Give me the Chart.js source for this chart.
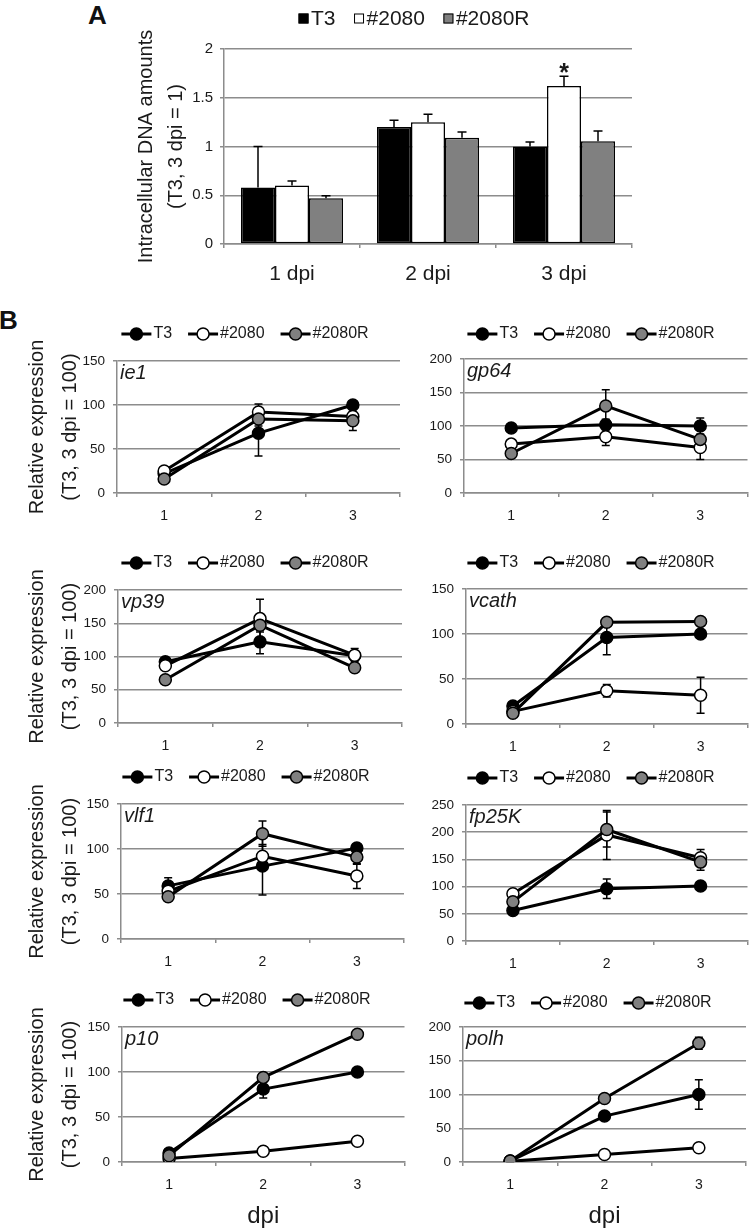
<!DOCTYPE html>
<html>
<head>
<meta charset="utf-8">
<script src="https://cdn.jsdelivr.net/npm/chart.js@4.4.1/dist/chart.umd.min.js"></script>
<style>
  html, body { margin: 0; padding: 0; background: #fff; }
  #page { position: relative; width: 750px; height: 1230px; overflow: hidden; font-family: "Liberation Sans", Arial, sans-serif; }
  #page canvas { position: absolute; }
  .tag { position: absolute; font-weight: bold; font-size: 26px; line-height: 1; color: #111; }
</style>
</head>
<body>
<div id="page">
  <div class="tag" style="left:88px; top:2px">A</div>
  <div class="tag" style="left:-1px; top:307px">B</div>
</div>
<script>
// ---- panel A: intracellular DNA (T3, 3 dpi = 1) ----
const dnaDays = ['1 dpi', '2 dpi', '3 dpi'];
const strains = ['T3', '#2080', '#2080R'];
const dnaT3 = [0.58, 1.20, 1.00];
const dna2080 = [0.60, 1.25, 1.62];
const dna2080R = [0.47, 1.09, 1.055];
const dnaErrT3 = [0.42, 0.07, 0.045];
const dnaErr2080 = [0.045, 0.08, 0.10];
const dnaErr2080R = [0.025, 0.06, 0.105];
const dnaTicks = ['0', '0.5', '1', '1.5', '2'];
const dnaStars = ['', '', '*'];   // #2080 vs T3

// ---- panel B: relative expression, rows are T3, #2080, #2080R ----
const dpi = ['1', '2', '3'];
const genes = ['ie1', 'gp64', 'vp39', 'vcath', 'vlf1', 'fp25K', 'p10', 'polh'];
const geneMax = [150, 200, 200, 150, 150, 250, 150, 200];

const ie1 = [[22, 68, 100], [25, 92, 87], [16, 84, 82]];
const ie1Err = [[3, 26, 3], [3, 9, 5], [2, 8, 11]];
const gp64 = [[97, 102, 100], [73, 84, 68], [59, 130, 80]];
const gp64Err = [[3, 8, 12], [4, 13, 18], [4, 24, 6]];
const vp39 = [[92, 122, 101], [86, 157, 102], [65, 147, 83]];
const vp39Err = [[6, 18, 5], [5, 29, 10], [4, 10, 4]];
const vcath = [[20, 96, 100], [14, 37, 32], [12, 113, 114]];
const vcathErr = [[2, 19, 2], [2, 7, 20], [2, 4, 3]];
const vlf1 = [[59, 81, 101], [53, 92, 70], [47, 117, 91]];
const vlf1Err = [[9, 32, 3], [5, 13, 14], [3, 14, 8]];
const fp25K = [[56, 96, 101], [87, 195, 153], [72, 205, 145]];
const fp25KErr = [[3, 18, 3], [4, 45, 15], [5, 32, 15]];
const p10 = [[10, 81, 100], [4, 12, 23], [7, 94, 142]];
const p10Err = [[2, 10, 2], [1, 1, 2], [1, 4, 3]];
const polh = [[1.5, 68, 100], [1, 11, 21], [1.5, 94, 176]];
const polhErr = [[0.5, 3, 22], [0.2, 1, 2], [0.5, 3, 9]];

const geneValues = [ie1, gp64, vp39, vcath, vlf1, fp25K, p10, polh];
const geneErrors = [ie1Err, gp64Err, vp39Err, vcathErr, vlf1Err, fp25KErr, p10Err, polhErr];

// styles
const FONT = '"Liberation Sans", Arial, sans-serif';
const fills = ['#000000', '#ffffff', '#808080'];
const gridGray = '#8c8c8c';
const ink = '#1a1a1a';
Chart.defaults.font.family = FONT;
Chart.defaults.color = ink;

const page = document.getElementById('page');
function addCanvas(x, y, w, h) {
    const c = document.createElement('canvas');
    c.width = w; c.height = h;
    c.style.left = x + 'px'; c.style.top = y + 'px';
    c.style.width = w + 'px'; c.style.height = h + 'px';
    page.appendChild(c);
    return c;
}

// legend row drawn from the datasets (box = panel A, line+circle = panel B)
const keyRow = {
    id: 'keyRow',
    afterDraw(chart, args, o) {
        const ctx = chart.ctx;
        ctx.save();
        ctx.font = o.font;
        ctx.textBaseline = 'middle';
        const items = chart.data.datasets.map(ds => ({
            label: ds.label,
            fill: ds.pointBackgroundColor || ds.backgroundColor,
            w: ctx.measureText(ds.label).width
        }));
        const total = items.reduce((s, it) => s + o.glyph + o.gap + it.w, 0) + o.spacing * (items.length - 1);
        let x = o.cx - total / 2;
        items.forEach(it => {
            ctx.strokeStyle = '#000';
            if (o.kind === 'box') {
                ctx.lineWidth = 1;
                ctx.fillStyle = it.fill;
                ctx.fillRect(x, o.cy - 6, o.glyph, o.glyph);
                ctx.strokeRect(x + 0.5, o.cy - 5.5, o.glyph - 1, o.glyph - 1);
            } else {
                ctx.lineWidth = 3;
                ctx.beginPath();
                ctx.moveTo(x, o.cy); ctx.lineTo(x + o.glyph, o.cy);
                ctx.stroke();
                ctx.lineWidth = 1.5;
                ctx.fillStyle = it.fill;
                ctx.beginPath();
                ctx.arc(x + o.glyph / 2, o.cy, 6, 0, Math.PI * 2);
                ctx.fill(); ctx.stroke();
            }
            ctx.fillStyle = ink;
            ctx.fillText(it.label, x + o.glyph + o.gap, o.cy);
            x += o.glyph + o.gap + it.w + o.spacing;
        });
        ctx.restore();
    }
};

function drawErrors(chart, o) {
    const ctx = chart.ctx, y = chart.scales.y;
    ctx.save();
    ctx.strokeStyle = '#000';
    ctx.lineWidth = o.width;
    chart.data.datasets.forEach((ds, i) => {
        chart.getDatasetMeta(i).data.forEach((el, j) => {
            const v = ds.data[j], e = ds.errors[j];
            const yTop = y.getPixelForValue(v + e);
            const yLow = o.upOnly ? y.getPixelForValue(v) : y.getPixelForValue(Math.max(v - e, 0));
            ctx.beginPath();
            ctx.moveTo(el.x, yLow); ctx.lineTo(el.x, yTop);
            ctx.moveTo(el.x - o.cap, yTop); ctx.lineTo(el.x + o.cap, yTop);
            if (!o.upOnly) { ctx.moveTo(el.x - o.cap, yLow); ctx.lineTo(el.x + o.cap, yLow); }
            ctx.stroke();
        });
    });
    ctx.restore();
}
const errorBars = {
    id: 'errorBars',
    beforeDatasetsDraw(chart, args, o) { if (!o.upOnly) drawErrors(chart, o); },
    afterDatasetsDraw(chart, args, o) { if (o.upOnly) drawErrors(chart, o); }
};

const starMark = {
    id: 'starMark',
    afterDatasetsDraw(chart) {
        const ctx = chart.ctx, y = chart.scales.y;
        ctx.save();
        ctx.font = 'bold 25px ' + FONT;
        ctx.fillStyle = ink;
        ctx.textAlign = 'center';
        chart.data.datasets.forEach((ds, i) => {
            if (!ds.marks) return;
            chart.getDatasetMeta(i).data.forEach((el, j) => {
                if (!ds.marks[j]) return;
                ctx.fillText(ds.marks[j], el.x, y.getPixelForValue(ds.data[j] + ds.errors[j]) + 5);
            });
        });
        ctx.restore();
    }
};

const geneTag = {
    id: 'geneTag',
    afterDatasetsDraw(chart, args, o) {
        const ctx = chart.ctx, a = chart.chartArea;
        ctx.save();
        ctx.font = 'italic 20px ' + FONT;
        ctx.fillStyle = ink;
        ctx.fillText(o.text, a.left + 3, a.top + 18);
        ctx.restore();
    }
};

// ---------- panel A ----------
const canvasA = addCanvas(0, 0, 750, 300);
new Chart(canvasA, {
    type: 'bar',
    data: {
        labels: dnaDays,
        datasets: [
            { label: strains[0], data: dnaT3, errors: dnaErrT3, backgroundColor: fills[0] },
            { label: strains[1], data: dna2080, errors: dnaErr2080, backgroundColor: fills[1], marks: dnaStars },
            { label: strains[2], data: dna2080R, errors: dnaErr2080R, backgroundColor: fills[2] }
        ]
    },
    options: {
        responsive: false,
        animation: false,
        devicePixelRatio: 1,
        layout: { padding: { top: 49, left: 131, right: 118, bottom: 0 } },
        datasets: {
            bar: { categoryPercentage: 0.75, barPercentage: 1, borderColor: '#000', borderWidth: 1.5, borderSkipped: false }
        },
        scales: {
            x: {
                grid: { offset: true, drawOnChartArea: false, tickLength: 4, color: gridGray, lineWidth: 1.5 },
                border: { color: gridGray, width: 1.5 },
                ticks: { font: { size: 21 }, padding: 14 },
                afterFit: s => { s.height = 56; }
            },
            y: {
                min: 0, max: 2,
                ticks: { stepSize: 0.5, padding: 7, font: { size: 15 }, callback: (v, i) => dnaTicks[i] },
                grid: { color: gridGray, lineWidth: 1.5, tickLength: 4 },
                border: { color: gridGray, width: 1.5 },
                title: { display: true, text: ['Intracellular DNA amounts', '(T3, 3 dpi = 1)'], font: { size: 20, lineHeight: 1.5 }, padding: 0 },
                afterFit: s => { s.width = 93; }
            }
        },
        plugins: {
            legend: { display: false },
            tooltip: { enabled: false },
            keyRow: { kind: 'box', font: '21px ' + FONT, cx: 414, cy: 19.5, glyph: 10, gap: 2.5, spacing: 18.5 },
            errorBars: { upOnly: true, width: 1.5, cap: 4.5 }
        }
    },
    plugins: [keyRow, errorBars, starMark]
});

// ---------- panel B ----------
const cols = [{ x: 0, w: 412, padL: 21 }, { x: 410, w: 345, padL: 0 }];
const cells = [
    { left: 117, right: 400, top: 361, bottom: 493, keyX: 245, keyY: 334 },
    { left: 464, right: 748, top: 359, bottom: 493, keyX: 591, keyY: 334 },
    { left: 118, right: 402, top: 590, bottom: 723, keyX: 245, keyY: 563 },
    { left: 466, right: 749, top: 589, bottom: 724, keyX: 591, keyY: 563 },
    { left: 121, right: 404, top: 804, bottom: 939, keyX: 246, keyY: 777 },
    { left: 466, right: 749, top: 805, bottom: 941, keyX: 591, keyY: 778 },
    { left: 122, right: 406, top: 1027, bottom: 1162, keyX: 247, keyY: 1000 },
    { left: 463, right: 746, top: 1027, bottom: 1162, keyX: 588, keyY: 1003 }
];

genes.forEach((gene, g) => {
    const col = cols[g % 2];
    const cell = cells[g];
    const lastRow = g >= 6;
    const xH = lastRow ? 69 : 40;
    const top0 = cell.keyY - 22;
    const cv = addCanvas(col.x, top0, col.w, cell.bottom + xH - top0);

    new Chart(cv, {
        type: 'line',
        data: {
            labels: dpi,
            datasets: strains.map((s, k) => ({
                label: s,
                data: geneValues[g][k],
                errors: geneErrors[g][k],
                borderColor: '#000',
                borderWidth: 3,
                pointRadius: 6,
                pointBorderWidth: 1.5,
                pointBorderColor: '#000',
                pointBackgroundColor: fills[k],
                tension: 0,
                order: 3 - k
            }))
        },
        options: {
            responsive: false,
            animation: false,
            devicePixelRatio: 1,
            layout: { padding: { top: cell.top - top0, left: col.padL, right: col.x + col.w - cell.right, bottom: 0 } },
            scales: {
                x: {
                    offset: true,
                    grid: { offset: true, drawOnChartArea: false, tickLength: 4, color: gridGray, lineWidth: 1.5 },
                    border: { color: gridGray, width: 1.5 },
                    ticks: { font: { size: 14 }, padding: 11 },
                    title: { display: lastRow, text: 'dpi', font: { size: 24 }, padding: 0 },
                    afterFit: s => { s.height = xH; }
                },
                y: {
                    min: 0, max: geneMax[g],
                    ticks: { stepSize: 50, padding: 8, font: { size: 13.5 } },
                    grid: { color: gridGray, lineWidth: 1.5, tickLength: 4 },
                    border: { color: gridGray, width: 1.5 },
                    title: {
                        display: g % 2 === 0,
                        text: ['Relative expression', '(T3, 3 dpi = 100)'],
                        font: { size: 20, lineHeight: 1.65 },
                        padding: 0
                    },
                    afterFit: s => { s.width = cell.left - col.x - col.padL; }
                }
            },
            plugins: {
                legend: { display: false },
                tooltip: { enabled: false },
                keyRow: { kind: 'line', font: '16px ' + FONT, cx: cell.keyX - col.x, cy: 22, glyph: 30, gap: 2, spacing: 16 },
                errorBars: { upOnly: false, width: 1.5, cap: 4 },
                geneTag: { text: gene }
            }
        },
        plugins: [keyRow, errorBars, geneTag]
    });
});
</script>
</body>
</html>
